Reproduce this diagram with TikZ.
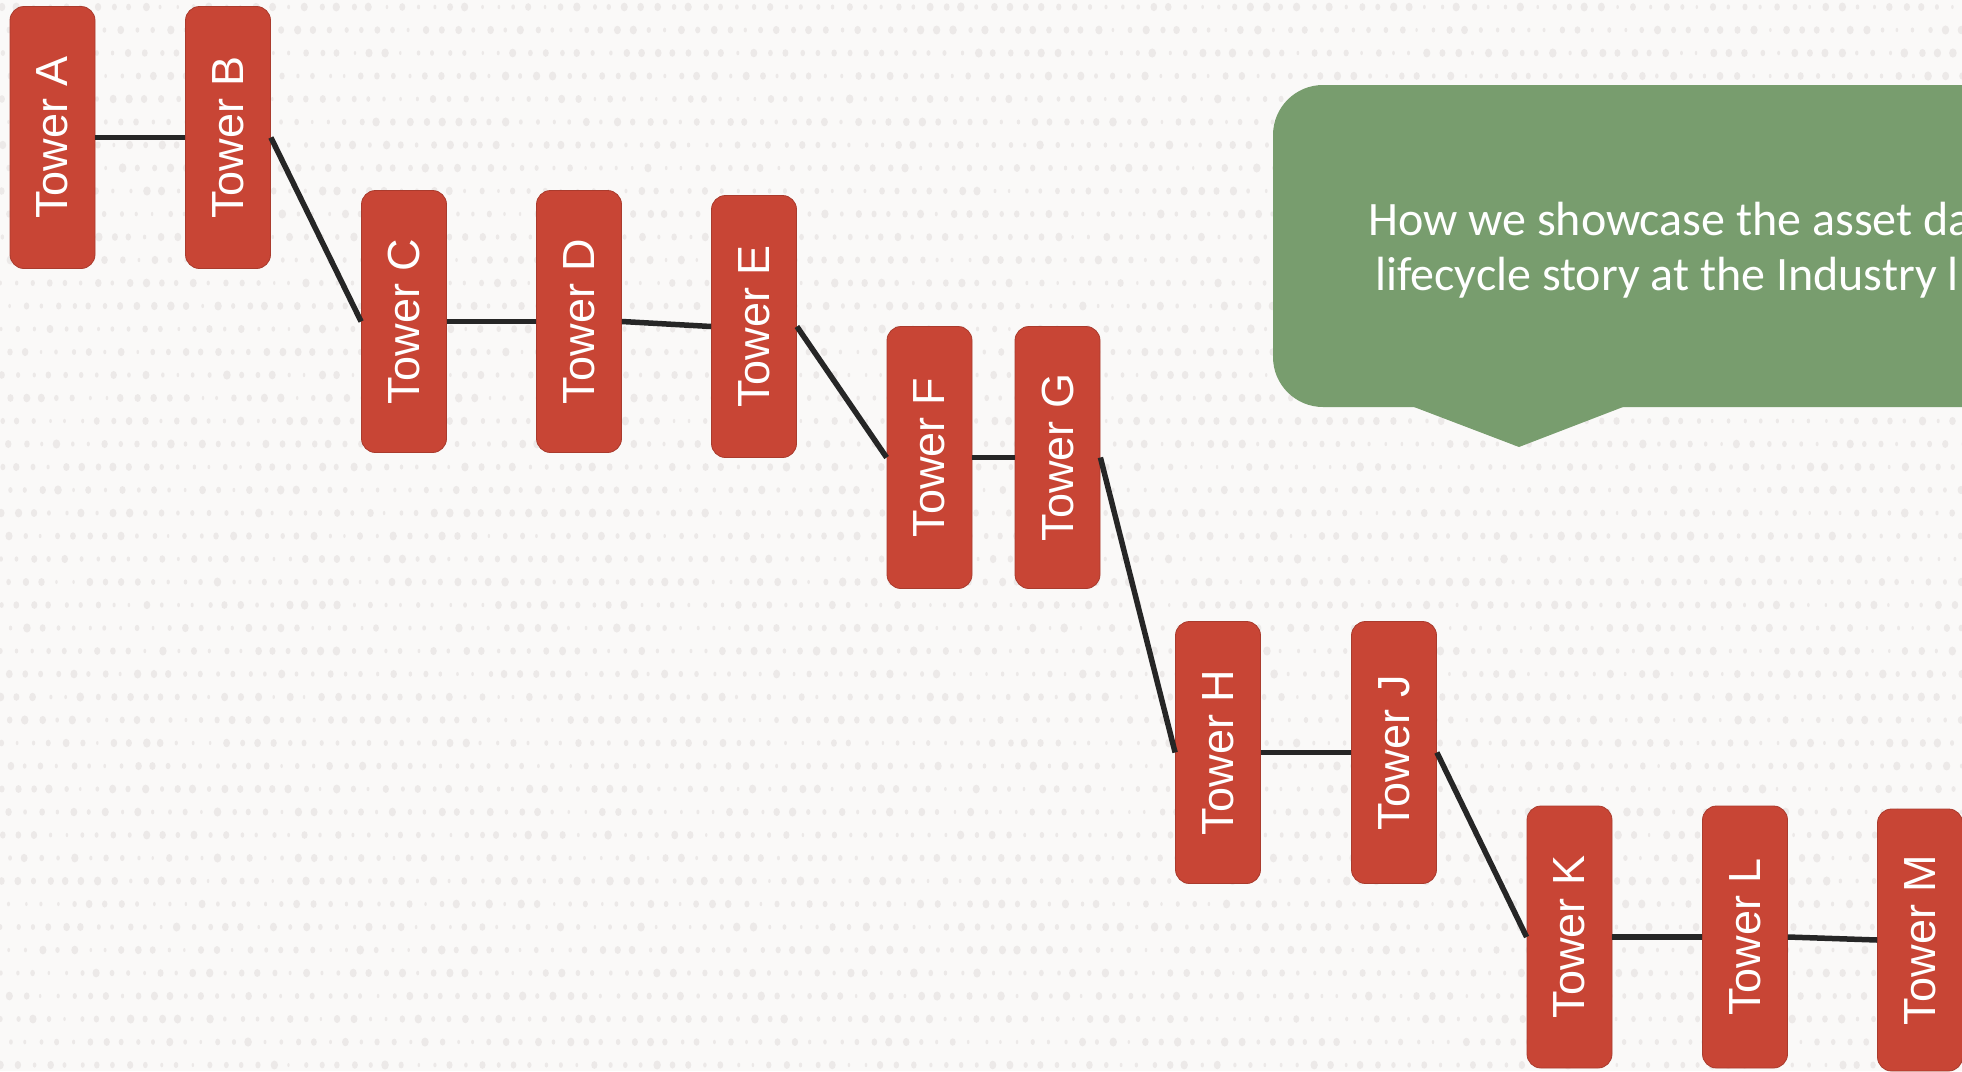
\documentclass[tikz,border=0pt]{standalone}
\usepackage{fontspec}
\setmainfont{Liberation Sans}
\newfontfamily\calloutfont{Carlito}
\usetikzlibrary{calc}
\definecolor{towerred}{HTML}{C84535}
\definecolor{calloutgreen}{HTML}{789D6E}
\definecolor{linkgray}{HTML}{262626}
\definecolor{paper}{HTML}{FAF9F8}
\definecolor{paperdot}{HTML}{ECE9E8}
\tikzset{
  tower/.style={rectangle, rounded corners=14pt, fill=towerred, draw=towerred!85!black,
    line width=0.8pt, minimum width=85pt, minimum height=262pt, inner sep=0pt,
    text=white, font=\fontsize{45}{45}\selectfont},
  link/.style={line width=5.5pt, draw=linkgray},
  calloutline/.style={anchor=base west, inner sep=0pt, text=white,
    font=\calloutfont\fontsize{48}{55}\selectfont}
}
\begin{document}
\begin{tikzpicture}[x=1pt,y=-1pt]
\useasboundingbox (0,0) rectangle (1962,1071);
\clip (0,0) rectangle (1962,1071);
\fill [paper] (0,0) rectangle (1962,1071);
% dotted paper texture
\pgfmathsetseed{17}
\foreach \r in {0,...,46}{
  \foreach \c in {0,...,122}{
    \pgfmathsetmacro{\dr}{1.2+2.6*rnd}
    \fill [paperdot] ({\c*16+8*mod(\r,2)+3*rnd},{\r*23+7}) ellipse ({\dr} and {\dr+0.8});
  }
}

% green callout
\fill [calloutgreen, rounded corners=50pt] (1273,85) rectangle (2150,407);
\fill [calloutgreen] (1414,400)--(1414,407)--(1519,447)--(1623,407)--(1623,400)--cycle;
\node [calloutline] (callA) at (1368,235) {How we showcase the asset da};
\node [calloutline] (callB) at (1375,290) {lifecycle story at the Industry l};

% towers
\node [tower] (A) at (52.5,137.5) {\rotatebox{90}{Tower A}};
\node [tower] (B) at (228,137.5) {\rotatebox{90}{Tower B}};
\node [tower] (C) at (404,321.5) {\rotatebox{90}{Tower C}};
\node [tower] (D) at (579,321.5) {\rotatebox{90}{Tower D}};
\node [tower] (E) at (754,326.5) {\rotatebox{90}{Tower E}};
\node [tower] (F) at (929.5,457.5) {\rotatebox{90}{Tower F}};
\node [tower] (G) at (1057.5,457.5) {\rotatebox{90}{Tower G}};
\node [tower] (H) at (1218,752.5) {\rotatebox{90}{Tower H}};
\node [tower] (J) at (1394,752.5) {\rotatebox{90}{Tower J}};
\node [tower] (K) at (1569.5,937) {\rotatebox{90}{Tower K}};
\node [tower] (L) at (1745,937) {\rotatebox{90}{Tower L}};
\node [tower] (M) at (1920,940) {\rotatebox{90}{Tower M}};

% connectors
\draw [link] (A.east)--(B.west);
\draw [link] (B.east)--(C.west);
\draw [link] (C.east)--(D.west);
\draw [link] (D.east)--(E.west);
\draw [link] (E.east)--(F.west);
\draw [link] (F.east)--(G.west);
\draw [link] (G.east)--(H.west);
\draw [link] (H.east)--(J.west);
\draw [link] (J.east)--(K.west);
\draw [link] (K.east)--(L.west);
\draw [link] (L.east)--(M.west);
\end{tikzpicture}
\end{document}
